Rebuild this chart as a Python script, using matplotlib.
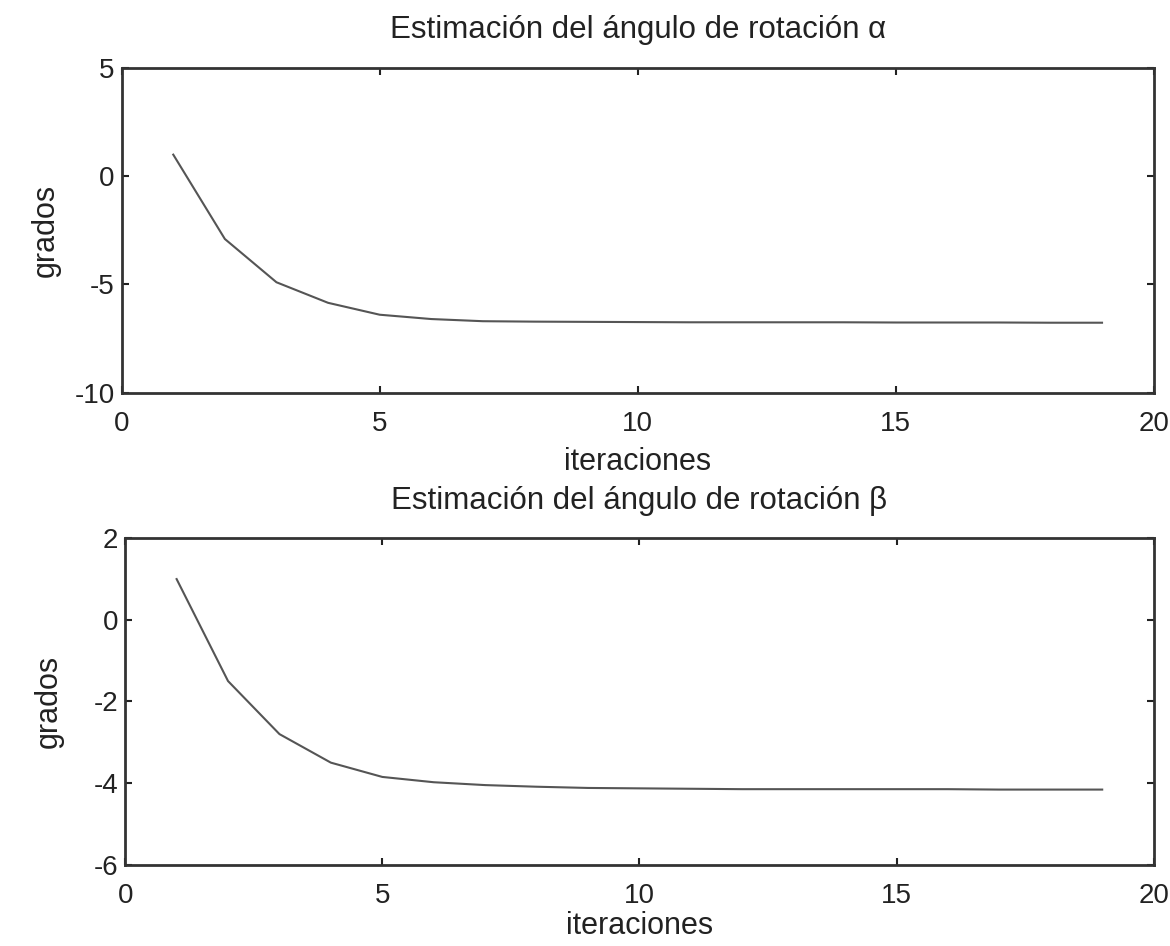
import matplotlib

matplotlib.use("Agg", force=True)

import matplotlib.pyplot as plt

plt.rcParams["font.family"] = ["Liberation Sans", "DejaVu Sans"]
plt.rcParams["axes.unicode_minus"] = False

iteraciones = list(range(1, 20))
alpha_grados = [1.0, -2.9, -4.9, -5.85, -6.4, -6.6, -6.7, -6.72, -6.73, -6.74,
                -6.75, -6.75, -6.75, -6.75, -6.76, -6.76, -6.76, -6.77, -6.77]
beta_grados = [1.0, -1.5, -2.8, -3.5, -3.85, -3.98, -4.05, -4.09, -4.12, -4.13,
               -4.14, -4.15, -4.15, -4.15, -4.15, -4.15, -4.16, -4.16, -4.16]

# title, data, y limits, y ticks, axes rect, title y, xlabel y (axes coords)
panels = [
    ("Estimación del ángulo de rotación α", alpha_grados, (-10, 5), [-10, -5, 0, 5],
     [0.104, 0.585, 0.882, 0.343], 1.117, -0.215),
    ("Estimación del ángulo de rotación β", beta_grados, (-6, 2), [-6, -4, -2, 0, 2],
     [0.107, 0.086, 0.879, 0.345], 1.113, -0.187),
]

fig = plt.figure(figsize=(11.7, 9.46), dpi=100)
for title, values, ylim, yticks, rect, title_y, xlabel_y in panels:
    ax = fig.add_axes(rect)
    ax.plot(iteraciones, values, color="#555555", linewidth=1.5)
    ax.set_xlim(0, 20)
    ax.set_ylim(*ylim)
    ax.set_xticks([0, 5, 10, 15, 20])
    ax.set_yticks(yticks)
    ax.tick_params(direction="in", top=True, right=True, labelsize=20, length=5,
                   width=1.5, colors="#222222")
    ax.tick_params(axis="x", pad=13)
    ax.tick_params(axis="y", pad=5)
    for spine in ax.spines.values():
        spine.set_linewidth(2)
        spine.set_color("#333333")
    ax.text(0.5, title_y, title, transform=ax.transAxes, ha="center", va="center",
            fontsize=22.5, color="#222222")
    ax.set_xlabel("iteraciones", fontsize=22, color="#222222")
    ax.xaxis.set_label_coords(0.5, xlabel_y)
    ax.xaxis.label.set_va("center")
    ax.set_ylabel("grados", fontsize=22, color="#222222")
    ax.yaxis.set_label_coords(-0.074, 0.5)
    ax.yaxis.label.set_va("center")

fig.savefig("out.png", dpi=100)
plt.close(fig)
